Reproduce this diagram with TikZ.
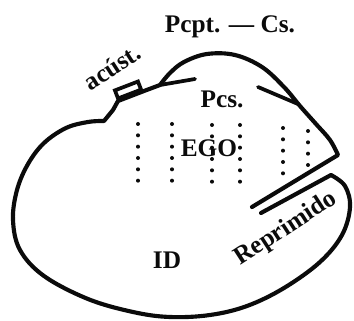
\documentclass[tikz,border=0pt]{standalone}
\usepackage{fontspec}
\setmainfont{Liberation Serif}
\definecolor{ink}{HTML}{0B0B0B}

\begin{document}
\begin{tikzpicture}[
  x=0.75pt, y=-0.75pt,
  font={\fontsize{19}{21}\selectfont\bfseries},
  rim/.style={draw=ink, line width=3.1pt, line join=round, line cap=round},
  cut/.style={draw=ink, line width=2.8pt, line cap=round},
  dots/.style={draw=ink, line width=3pt, line cap=round, dash pattern=on 0pt off 8.5pt},
  word/.style={text=ink, inner sep=0pt, anchor=center},
  earbox/.style={draw=ink, line width=2.8pt, minimum width=18.5pt, minimum height=6.5pt,
    inner sep=0pt, anchor=center}
]
\useasboundingbox (0,0) rectangle (354,321);

\coordinate (domeL) at (160,85);
\coordinate (domeR) at (298,104);

% outline of the psychic apparatus, cut open where the repressed lies
\draw[rim] (252,207) -- (338,155)
  -- plot[smooth, tension=0.6] coordinates {(338,155) (330,140) (316,124) (300,106) (284,87)
     (262,67) (235,55) (207,54) (184,62) (170,73) (160,85)}
  -- (144,91) -- (118,101) -- (113,110) -- (104,121)
  -- plot[smooth, tension=0.6] coordinates {(104,121) (88,122) (66,128) (44,143) (28,164)
     (17,190) (13,220) (20,250) (44,276) (88,299) (133,312) (170,317) (210,315) (247,306)
     (284,288) (320,262) (342,235) (350,207) (345,186) (331,175)}
  -- (261,213);

\node[earbox, rotate=21] (ear) at (128,90) {};

\draw[cut] (domeL) -- (195,79);
\draw[cut] (258,87) -- (domeR);

\draw[dots] (138,124) -- (138,181);
\draw[dots] (172,124) -- (172,183);
\draw[dots] (212,125) -- (212,183);
\draw[dots] (240,125) -- (240,189);
\draw[dots] (283,128) -- (283,178);
\draw[dots] (308,131) -- (308,168);

\node[word] (pcpt) at (230,27) {Pcpt. --- Cs.};
\node[word, rotate=33] (acust) at (112,67) {acúst.};
\node[word] (pcs) at (222,99) {Pcs.};
\node[word] (ego) at (209,148) {EGO};
\node[word] (id) at (167,260) {ID};
\node[word, rotate=33] (repr) at (286,229) {Reprimido};
\end{tikzpicture}
\end{document}
